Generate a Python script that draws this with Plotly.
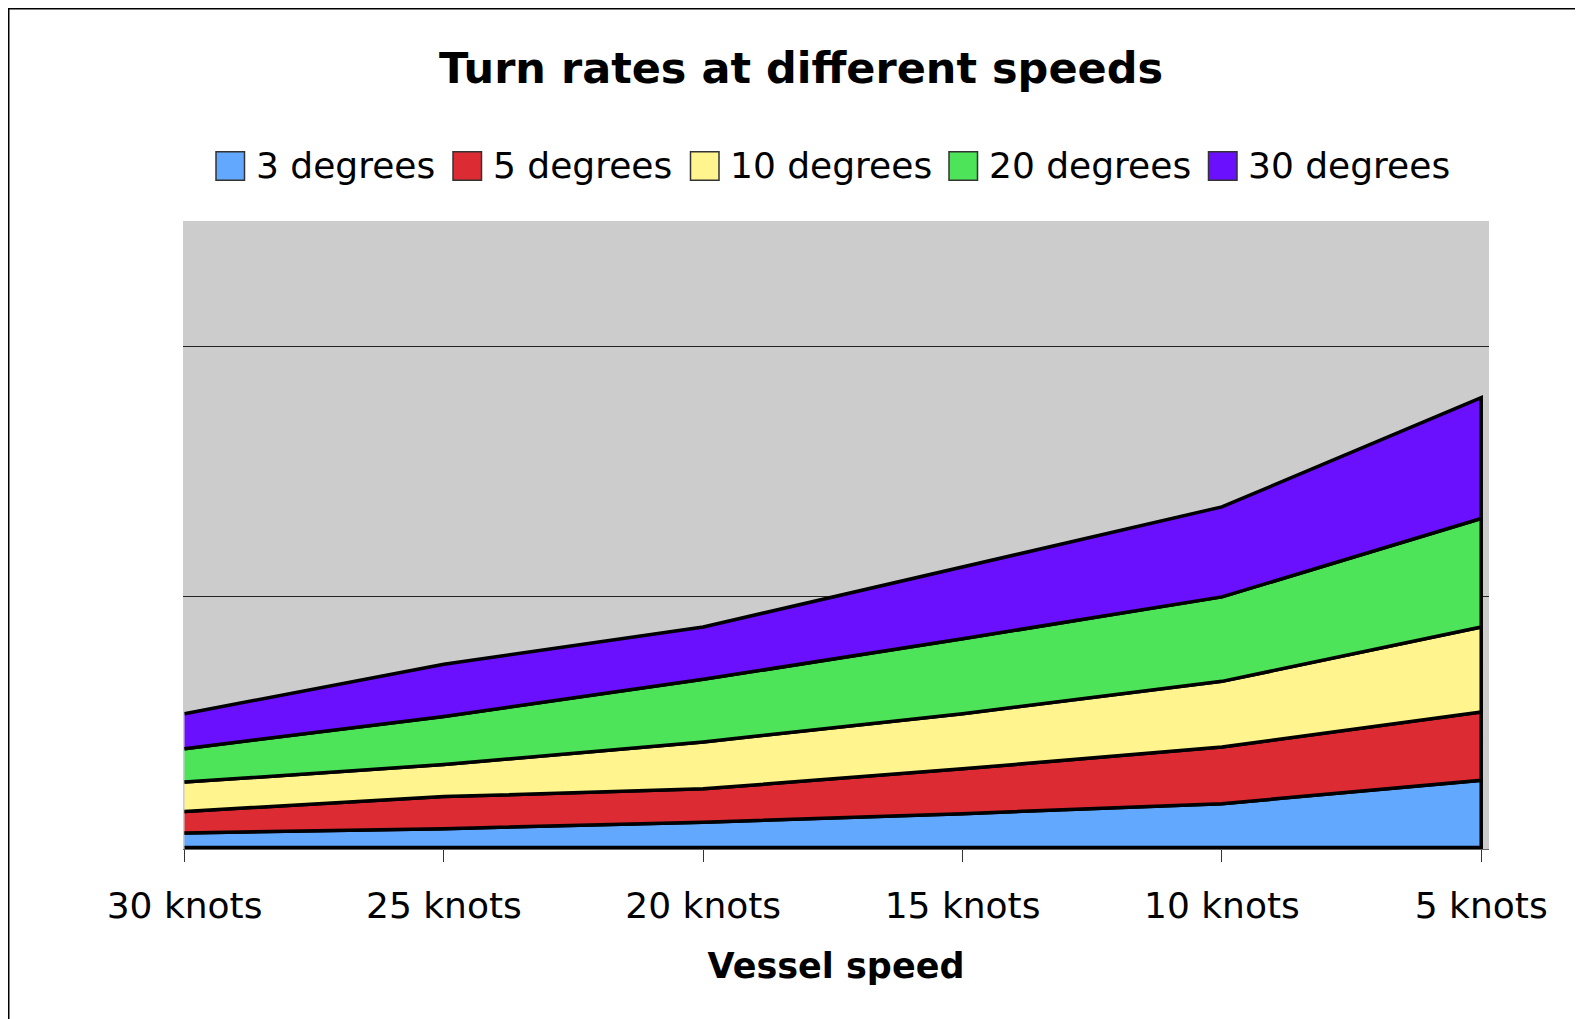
import plotly.graph_objects as go

# ---------------- data ----------------
categories = ["30 knots", "25 knots", "20 knots", "15 knots", "10 knots", "5 knots"]
series_names = ["3 degrees", "5 degrees", "10 degrees", "20 degrees", "30 degrees"]
deg3 = [5.8, 7.5, 10.1, 13.5, 17.5, 26.8]
deg5 = [8.6, 12.8, 13.3, 17.9, 22.6, 27.3]
deg10 = [11.7, 12.8, 18.7, 22.0, 26.2, 33.9]
deg20 = [13.3, 19.2, 25.0, 29.9, 33.7, 43.3]
deg30 = [14.0, 20.8, 20.9, 28.7, 35.9, 48.2]
gridline_values = [100, 200]

series_values = [deg3, deg5, deg10, deg20, deg30]
colors = ["#63A8FF", "#DC2B33", "#FFF48D", "#4EE45A", "#6A10FF"]

# ---------------- layout constants (figure pixel coords; page adds 8px body margin) ----------------
OFF = 8
W, H = 1575, 1011
L = 183 - OFF
T = 221 - OFF
plot_right = 1489 - OFF
plot_bottom = 848.7 - OFF
R = W - plot_right
B = H - plot_bottom
plot_w = plot_right - L
plot_h = plot_bottom - T
FONT = "DejaVu Sans"

fig = go.Figure()

xs = list(range(len(categories)))
bottom = [0.0] * len(categories)
for name, vals, col in zip(series_names, series_values, colors):
    top = [b + v for b, v in zip(bottom, vals)]
    fig.add_trace(go.Scatter(
        x=xs + xs[::-1],
        y=top + bottom[::-1],
        mode="lines",
        fill="toself",
        fillcolor=col,
        line=dict(color="black", width=3.5),
        name=name,
        showlegend=False,
        hoveron="fills",
    ))
    bottom = top

# ---------------- custom legend (large square swatches) ----------------
def px_to_paper_x(px):
    return (px - OFF - L) / plot_w

def py_to_paper_y(py):
    return (plot_bottom - (py - OFF)) / plot_h

legend_sq_left = [216, 453, 690.5, 949, 1208.5]
sq_size = 28.5
legend_cy = 166
shapes = []
annotations = []
for name, col, sx in zip(series_names, colors, legend_sq_left):
    shapes.append(dict(
        type="rect", xref="paper", yref="paper",
        x0=px_to_paper_x(sx), x1=px_to_paper_x(sx + sq_size),
        y0=py_to_paper_y(legend_cy + sq_size / 2), y1=py_to_paper_y(legend_cy - sq_size / 2),
        fillcolor=col, line=dict(color="#333333", width=1.5), layer="above",
    ))
    annotations.append(dict(
        text=name, xref="paper", yref="paper",
        x=px_to_paper_x(sx + sq_size + 9), y=py_to_paper_y(legend_cy),
        xanchor="left", yanchor="middle", showarrow=False,
        font=dict(family=FONT, size=36, color="black"),
    ))

# outer frame of the chart area
shapes.append(dict(
    type="rect", xref="paper", yref="paper",
    x0=px_to_paper_x(OFF + 0.75), x1=px_to_paper_x(W + 100),
    y0=py_to_paper_y(H + 100), y1=py_to_paper_y(OFF + 0.75),
    line=dict(color="black", width=1.5), fillcolor="rgba(0,0,0,0)", layer="below",
))

fig.update_layout(
    width=W, height=H,
    margin=dict(l=L, r=R, t=T, b=B, autoexpand=False),
    paper_bgcolor="white",
    plot_bgcolor="#CCCCCC",
    title=dict(
        text="<b>Turn rates at different speeds</b>",
        x=(801 - OFF) / W, xanchor="center", xref="container",
        y=1 - (68 - OFF) / H, yanchor="middle", yref="container",
        font=dict(family=FONT, size=43, color="black"),
    ),
    shapes=shapes,
    annotations=annotations,
    showlegend=False,
    xaxis=dict(
        range=[-0.006, 5.03],
        tickmode="array", tickvals=xs, ticktext=categories,
        ticks="outside", ticklen=12, tickwidth=1, tickcolor="#333333",
        ticklabelstandoff=13,
        tickfont=dict(family=FONT, size=36, color="black"),
        showgrid=False, zeroline=False,
        showline=True, linecolor="#666666", linewidth=1,
        title=dict(text="<b>Vessel speed</b>", standoff=28,
                   font=dict(family=FONT, size=35, color="black")),
        automargin=False,
    ),
    yaxis=dict(
        range=[-0.6, 250],
        tickmode="array", tickvals=gridline_values,
        showticklabels=False, ticks="",
        showgrid=True, gridcolor="#222222", gridwidth=1,
        zeroline=False, showline=False,
        automargin=False,
    ),
)

fig.write_html("out.html")
